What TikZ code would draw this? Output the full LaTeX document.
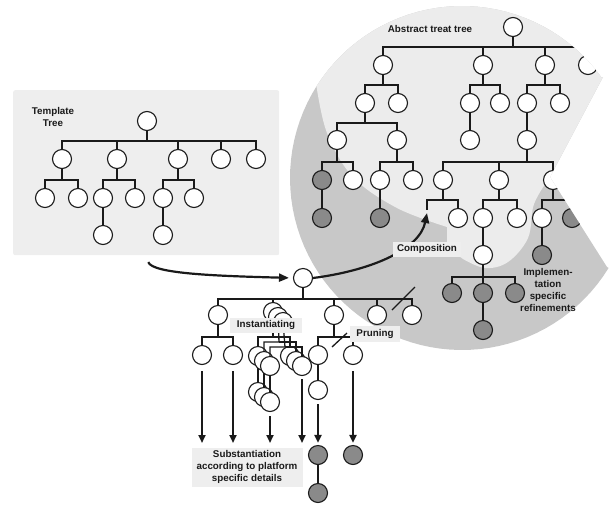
\documentclass[tikz,border=0pt]{standalone}
\usepackage{fontspec}
\setmainfont{Liberation Sans}
\usetikzlibrary{arrows.meta}
\definecolor{darkbg}{HTML}{C8C8C8}
\definecolor{lightbg}{HTML}{ECECEC}
\definecolor{boxbg}{HTML}{EEEEEE}
\definecolor{nodegray}{HTML}{8A8A8A}
\definecolor{ink}{HTML}{1A1A1A}
\tikzset{
  wn/.style={circle, draw=ink, fill=white, line width=1.1pt, minimum size=19pt, inner sep=0pt},
  dn/.style={wn, fill=nodegray},
  tedge/.style={draw=ink, line width=1.3pt},
  lbl/.style={font=\bfseries\fontsize{9.8}{12}\selectfont, text=ink, align=center, inner sep=0pt},
  lblbox/.style={lbl, fill=boxbg},
  bigarrow/.style={draw=ink, line width=2.2pt, -{Triangle[length=10pt,width=8pt]}},
  subarrow/.style={draw=ink, line width=2.2pt, -{Triangle[length=8pt,width=7pt]}},
}
\newcommand{\treefan}[3]{%
  \coordinate (#1bar) at (#1 |- 0,#2);
  \draw[tedge] (#1) -- (#1bar);
  \foreach \c in {#3} {\draw[tedge] (#1bar) -| (\c);}%
}
\begin{document}
\begin{tikzpicture}[x=1pt,y=-1pt]
\useasboundingbox (0,0) rectangle (612,504);

% ---------- template tree box ----------
\node[fill=boxbg, rounded corners=2pt, minimum width=266pt, minimum height=165pt, inner sep=0pt, anchor=north west] (tbox) at (13,90) {};
\node[lbl] (ttl) at (53,117) {Template\\Tree};
\node[wn] (t0) at (147,121) {};
\node[wn] (t1) at (62,159) {};
\node[wn] (t2) at (117,159) {};
\node[wn] (t3) at (178,159) {};
\node[wn] (t4) at (221,159) {};
\node[wn] (t5) at (256,159) {};
\node[wn] (t11) at (45,198) {};
\node[wn] (t12) at (78,198) {};
\node[wn] (t21) at (103,198) {};
\node[wn] (t22) at (135,198) {};
\node[wn] (t211) at (103,235) {};
\node[wn] (t31) at (163,198) {};
\node[wn] (t32) at (194,198) {};
\node[wn] (t311) at (163,235) {};
\treefan{t0}{141}{t1,t2,t3,t4,t5}
\treefan{t1}{180}{t11,t12}
\treefan{t2}{180}{t21,t22}
\treefan{t3}{180}{t31,t32}
\draw[tedge] (t21) -- (t211);
\draw[tedge] (t31) -- (t311);

% ---------- abstract tree region ----------
\begin{scope}
\clip (550,177) -- (603,77) -- plot[domain=-35.6:-328.5, samples=90] ({462+172*cos(\x)},{178+172*sin(\x)}) -- (607,267) -- cycle;
\fill[darkbg] (250,-10) rectangle (640,380);
\fill[lightbg] (300,-10) -- (640,-10) -- (640,120) -- (550,177)
  -- plot[smooth, tension=0.6] coordinates {(550,177) (534,204) (528,238) (508,262) (485,268) (463,259)}
  -- (447,247) -- (447,227)
  -- plot[smooth, tension=0.6] coordinates {(447,227) (397,208) (353,177) (327,133) (316,83)}
  -- (300,70) -- cycle;

\node[lbl] (atl) at (430,29) {Abstract treat tree};
\node[wn] (a0) at (513,27) {};
\node[wn] (a1) at (383,65) {};
\node[wn] (a2) at (483,65) {};
\node[wn] (a3) at (545,65) {};
\node[wn] (a4) at (588,65) {};
\node[wn] (a11) at (365,103) {};
\node[wn] (a12) at (398,103) {};
\node[wn] (a111) at (337,140) {};
\node[wn] (a112) at (397,140) {};
\node[dn] (a1111) at (322,180) {};
\node[wn] (a1112) at (353,180) {};
\node[dn] (a11111) at (322,218) {};
\node[wn] (a1121) at (380,180) {};
\node[wn] (a1122) at (413,180) {};
\node[dn] (a11211) at (380,218) {};
\node[wn] (a21) at (470,103) {};
\node[wn] (a22) at (500,103) {};
\node[wn] (a211) at (470,140) {};
\node[wn] (a31) at (527,103) {};
\node[wn] (a32) at (560,103) {};
\node[wn] (a311) at (527,140) {};
\node[wn] (b1) at (443,180) {};
\node[wn] (b2) at (499,180) {};
\node[wn] (b3) at (553,180) {};
\coordinate (b11) at (427,210);
\node[wn] (b12) at (458,218) {};
\node[wn] (b21) at (483,218) {};
\node[wn] (b22) at (517,218) {};
\node[wn] (b211) at (483,255) {};
\node[dn] (c1) at (452,293) {};
\node[dn] (c2) at (483,293) {};
\node[dn] (c3) at (515,293) {};
\node[dn] (c21) at (483,330) {};
\node[wn] (b31) at (542,218) {};
\node[dn] (b32) at (572,218) {};
\node[dn] (b311) at (542,255) {};
\treefan{a0}{47}{a1,a2,a3,a4}
\treefan{a1}{85}{a11,a12}
\treefan{a11}{123}{a111,a112}
\treefan{a111}{162}{a1111,a1112}
\treefan{a112}{162}{a1121,a1122}
\treefan{a2}{85}{a21,a22}
\treefan{a3}{85}{a31,a32}
\treefan{a311}{162}{b1,b2,b3}
\treefan{b1}{200}{b11,b12}
\treefan{b2}{200}{b21,b22}
\treefan{b3}{200}{b31,b32}
\treefan{b211}{277}{c1,c2,c3}
\draw[tedge] (a1111) -- (a11111);
\draw[tedge] (a1121) -- (a11211);
\draw[tedge] (a21) -- (a211);
\draw[tedge] (a31) -- (a311);
\draw[tedge] (b21) -- (b211);
\draw[tedge] (c2) -- (c21);
\draw[tedge] (b31) -- (b311);
\end{scope}

\node[lbl] (impl) at (548,290) {Implemen-\\tation\\specific\\refinements};

% ---------- instantiated tree ----------
\node[wn] (r0) at (303,278) {};
\node[wn] (i1) at (218,315) {};
\node[wn] (i3) at (334,315) {};
\node[wn] (i4) at (377,315) {};
\node[wn] (i5) at (412,315) {};
\node[wn] (i11) at (202,355) {};
\node[wn] (i12) at (233,355) {};
\node[wn] (i31) at (318,355) {};
\node[wn] (i32) at (353,355) {};
\node[wn] (i311) at (318,390) {};
\foreach \k in {0,1,2}{
  \node[wn] (sp\k) at ({273+5*\k},{312+5*\k}) {};
  \node[wn] (sa\k) at ({258+6*\k},{356+5*\k}) {};
  \node[wn] (sb\k) at ({290+6*\k},{356+5*\k}) {};
  \node[wn] (sc\k) at ({258+6*\k},{392+5*\k}) {};
  \coordinate (sq\k) at ({273+6*\k},{337+5*\k});
  \draw[tedge] (sp\k) -- (sq\k) -| (sa\k);
  \draw[tedge] (sq\k) -| (sb\k);
  \draw[tedge] (sa\k) -- (sc\k);
}
\treefan{r0}{299}{i1,sp0,i3,i4,i5}
\treefan{i1}{337}{i11,i12}
\treefan{i3}{337}{i31,i32}
\draw[tedge] (i31) -- (i311);

% pruning marks
\coordinate (pa1) at (392,310); \coordinate (pa2) at (415,287);
\coordinate (pb1) at (332,347); \coordinate (pb2) at (347,333);
\draw[tedge] (pa1) -- (pa2);
\draw[tedge] (pb1) -- (pb2);

% substantiation arrows and nodes
\node[dn] (d1) at (318,455) {};
\node[dn] (d2) at (318,493) {};
\node[dn] (d3) at (353,455) {};
\draw[tedge] (d1) -- (d2);
\draw[subarrow, shorten <=6pt] (i11) -- (i11 |- 0,443);
\draw[subarrow, shorten <=6pt] (i12) -- (i12 |- 0,443);
\draw[subarrow, shorten <=4pt] (sc2) -- (sc2 |- 0,443);
\draw[subarrow, shorten <=3pt] (sb2) -- (sb2 |- 0,443);
\draw[subarrow, shorten <=4pt, shorten >=2pt] (i311) -- (d1);
\draw[subarrow, shorten <=6pt, shorten >=2pt] (i32) -- (d3);

% big curved arrows
\coordinate (compend) at (427,213);
\draw[bigarrow, shorten <=7pt, shorten >=4pt] (tbox.south) .. controls (152,274) and (220,276) .. (r0.west);
\draw[bigarrow] (r0.east) .. controls (375,270) and (420,248) .. (compend);

% labels
\node[lblbox, minimum width=68pt, minimum height=15pt] (comp) at (427,249) {Composition};
\node[lblbox, minimum width=72pt, minimum height=15pt] (inst) at (266,325) {Instantiating};
\node[lblbox, minimum width=50pt, minimum height=16pt] (prun) at (375,334) {Pruning};
\node[lblbox, minimum width=111pt, minimum height=39pt] (subs) at (247,467) {Substantiation\\according to platform\\specific details};
\end{tikzpicture}
\end{document}
